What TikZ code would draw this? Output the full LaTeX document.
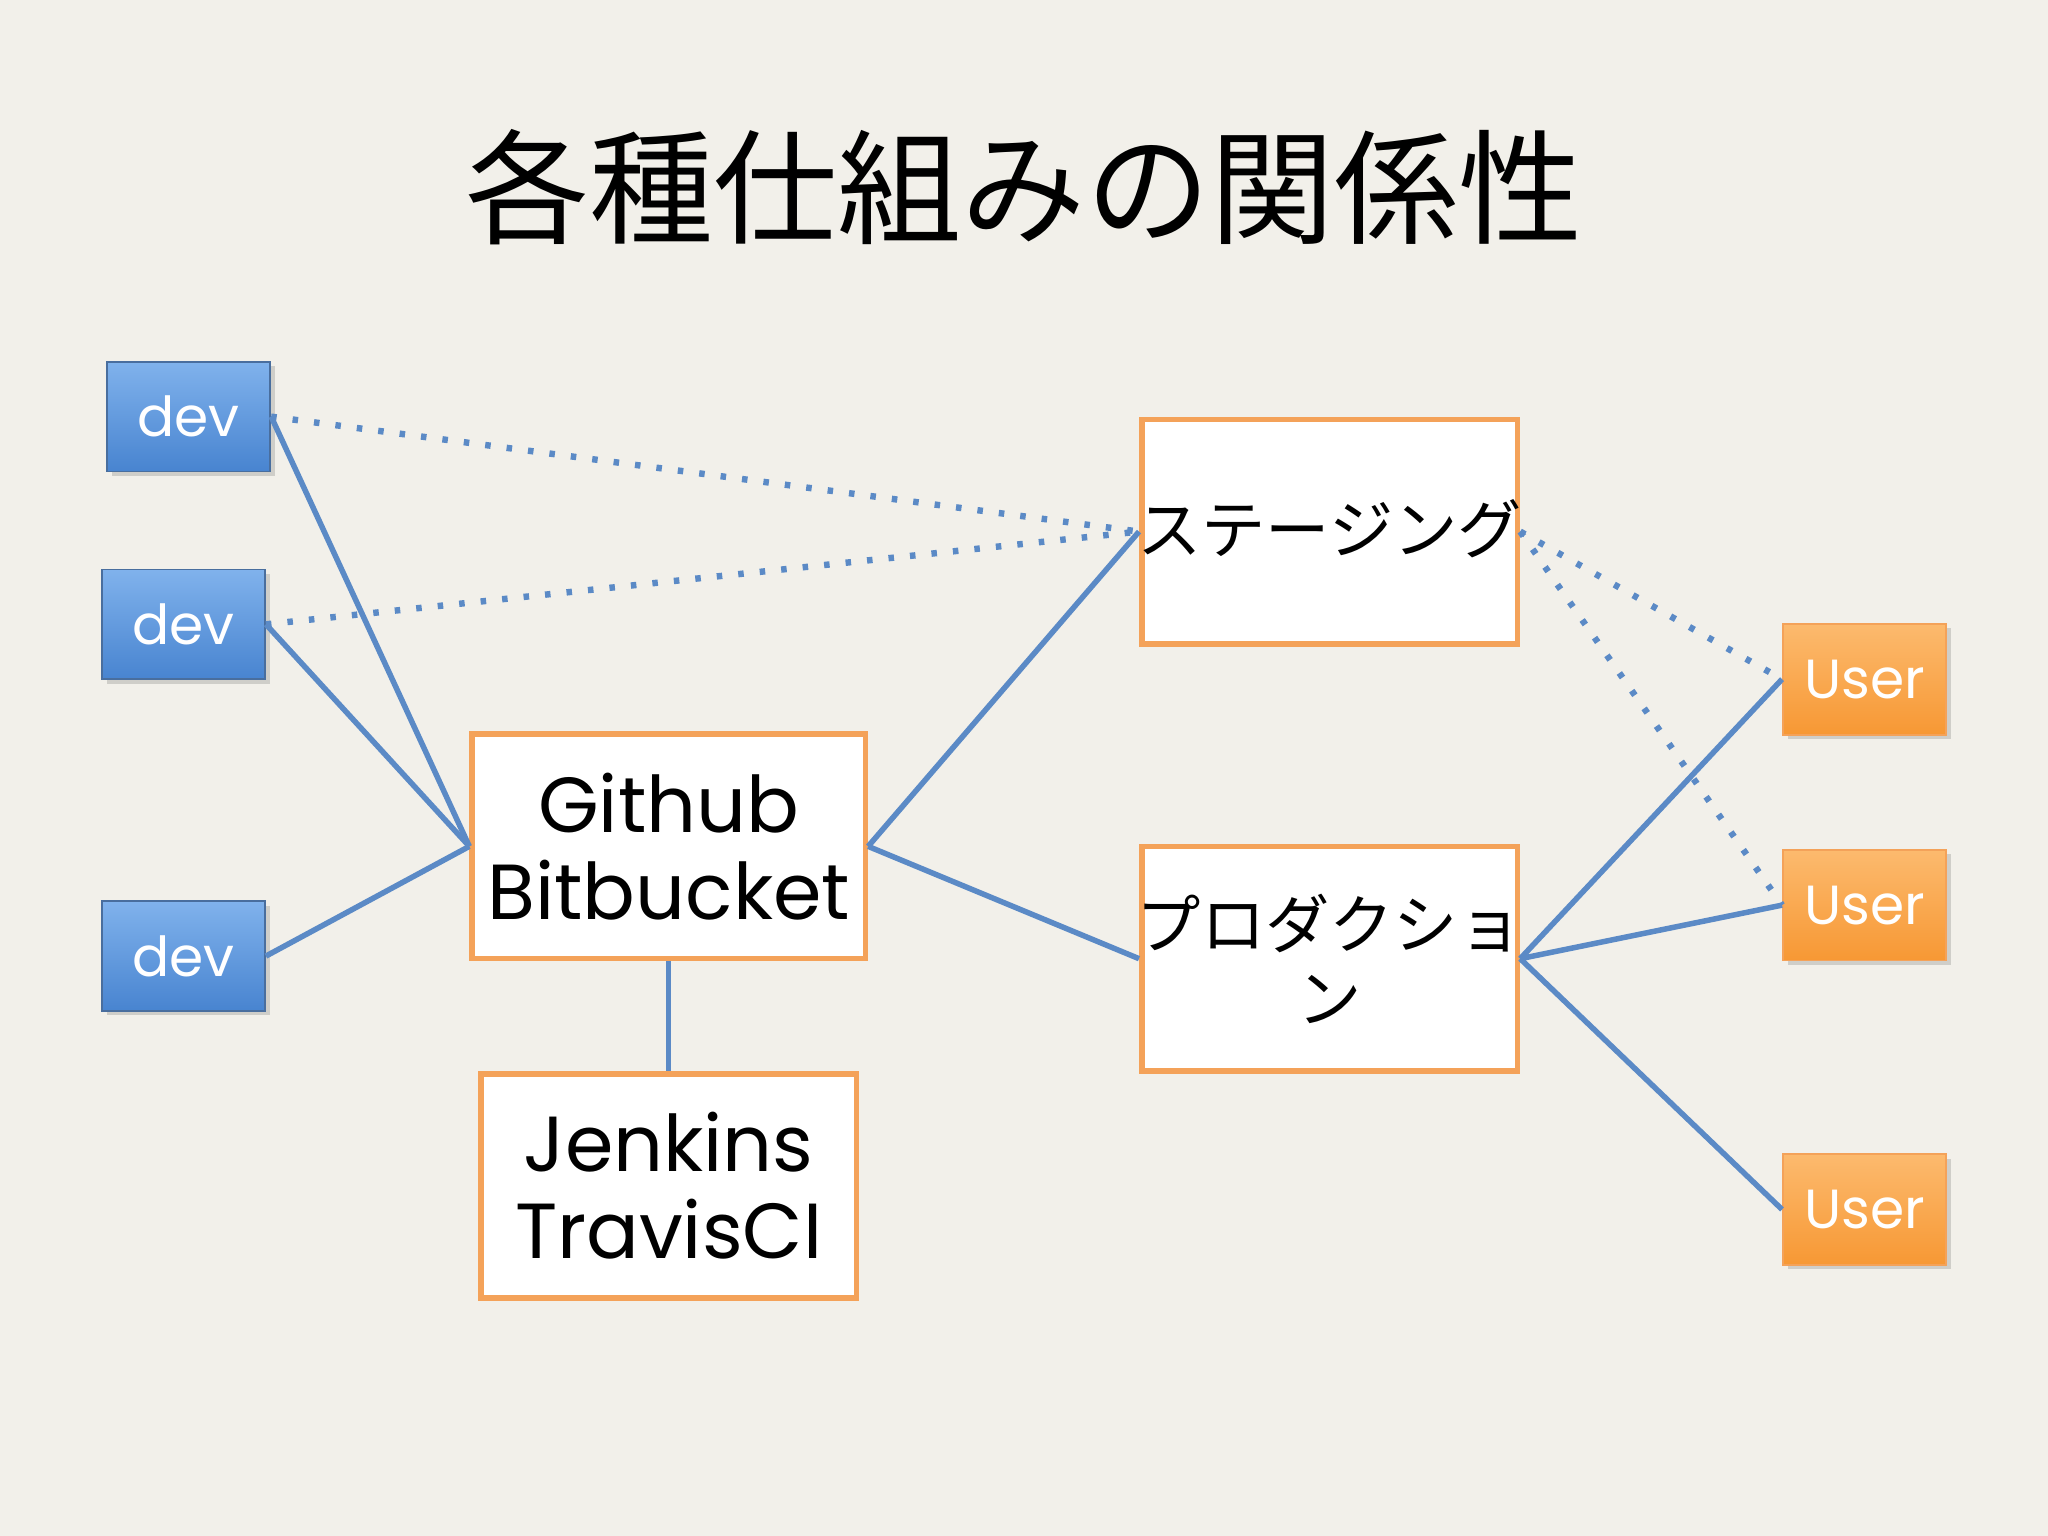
\documentclass[tikz,border=0pt]{standalone}
\usepackage{fontspec}
\setmainfont{Poppins}
\newfontfamily\cjk{Noto Sans CJK JP}
\usetikzlibrary{shadows}
\definecolor{bg}{HTML}{F2F0EA}
\definecolor{ln}{HTML}{5B8AC6}
\definecolor{ob}{HTML}{F4A259}
\begin{document}
\begin{tikzpicture}[x=0.01cm,y=-0.01cm,
 dev/.style={draw=ln!80!black,top color=blue!25!cyan!40!white!80!blue,bottom color=ln!90!blue,
   top color={rgb,255:red,128;green,178;blue,236},bottom color={rgb,255:red,72;green,132;blue,208},
   text=white,font=\fontsize{12}{12}\selectfont,minimum width=125\pgflinewidth,drop shadow={opacity=0.3,shadow xshift=1pt,shadow yshift=-1pt}},
 usr/.style={draw=ob,top color={rgb,255:red,252;green,186;blue,110},bottom color={rgb,255:red,247;green,152;blue,52},
   text=white,font=\fontsize{12}{12}\selectfont,drop shadow={opacity=0.3,shadow xshift=1pt,shadow yshift=-1pt}},
 box/.style={draw=ob,line width=1.2pt,fill=white,align=center,font=\fontsize{17}{19}\selectfont},
 con/.style={ln,line width=1.2pt},
 dot/.style={ln,line width=1.4pt,dash pattern=on 1.2pt off 3.5pt}]
\fill[bg] (0,0) rectangle (1568,1176);
\useasboundingbox (0,0) rectangle (1568,1176);
\node[font=\cjk\fontsize{27}{27}\selectfont] (t) at (784,143) {各種仕組みの関係性};
\node[dev,minimum width=125*0.284pt,minimum height=84*0.284pt] (d1) at (144.5,319) {dev};
\node[dev,minimum width=125*0.284pt,minimum height=84*0.284pt] (d2) at (140.5,478) {dev};
\node[dev,minimum width=125*0.284pt,minimum height=84*0.284pt] (d3) at (140.5,732) {dev};
\node[box,minimum width=288*0.284pt,minimum height=172*0.284pt] (g) at (512,648) {Github\\Bitbucket};
\node[box,minimum width=288*0.284pt,minimum height=172*0.284pt] (j) at (512,908) {Jenkins\\TravisCI};
\node[box,minimum width=288*0.284pt,minimum height=172*0.284pt,font=\cjk\fontsize{14}{17}\selectfont,anchor=north] (s) at (1018,319) {};
\node[font=\cjk\fontsize{14}{17}\selectfont] at (1018,405) {ステージング};
\node[box,minimum width=288*0.284pt,minimum height=172*0.284pt] (p) at (1018,734) {};
\node[font=\cjk\fontsize{14}{16}\selectfont,align=center] at (1018,734) {プロダクショ\\ン};
\node[usr,minimum width=125*0.284pt,minimum height=85*0.284pt] (u1) at (1427.5,520) {User};
\node[usr,minimum width=125*0.284pt,minimum height=85*0.284pt] (u2) at (1427.5,693) {User};
\node[usr,minimum width=125*0.284pt,minimum height=85*0.284pt] (u3) at (1427.5,926) {User};
\draw[dot] (d1.east) -- (s.west);
\draw[dot] (d2.east) -- (s.west);
\draw[dot] (s.east) -- (u1.west);
\draw[dot] (s.east) -- (u2.west);
\draw[con] (d1.east) -- (g.west);
\draw[con] (d2.east) -- (g.west);
\draw[con] (d3.east) -- (g.west);
\draw[con] (g.east) -- (s.west);
\draw[con] (g.east) -- (p.west);
\draw[con] (g.south) -- (j.north);
\draw[con] (p.east) -- (u1.west);
\draw[con] (p.east) -- (u2.west);
\draw[con] (p.east) -- (u3.west);
\end{tikzpicture}
\end{document}
